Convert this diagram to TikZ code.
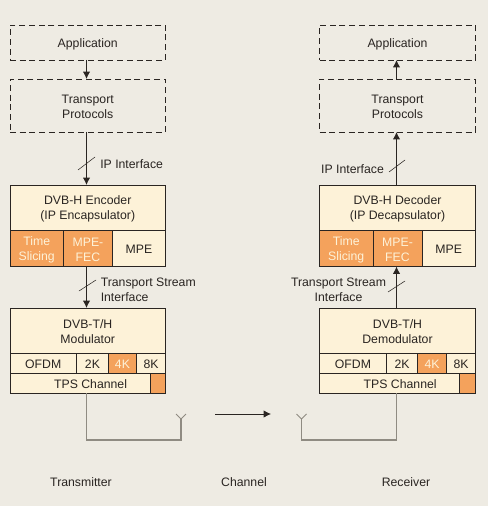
\documentclass[tikz,border=0pt]{standalone}
\usepackage{fontspec}
\setmainfont{Liberation Sans}
\usetikzlibrary{arrows.meta}
\definecolor{bgc}{HTML}{EEEBE3}
\definecolor{boxc}{HTML}{FDF2D8}
\definecolor{orangec}{HTML}{F4A25C}
\definecolor{inkc}{HTML}{2A2522}
\definecolor{wirec}{HTML}{8F8B82}
\newcommand{\cell}[7][]{%
  \pgfmathsetmacro{\cw}{(#5-#3)*0.75}%
  \pgfmathsetmacro{\ch}{(#6-#4)*0.75}%
  \pgfmathsetmacro{\cx}{(#5+#3)/2}%
  \pgfmathsetmacro{\cy}{(#6+#4)/2}%
  \node[#1,minimum width=\cw pt,minimum height=\ch pt] (#2) at (\cx,\cy) {};
  \node[#1,draw=none,fill=none,yshift=-1.1pt] (#2t) at (#2.center) {#7};}
\tikzset{
  lab/.style={font=\fontsize{9.2pt}{11.2pt}\selectfont,text=inkc,align=center,inner sep=0pt},
  labl/.style={lab,align=left},
  dashbox/.style={draw=inkc,line width=0.6pt,dash pattern=on 4.5pt off 2.8pt,lab,outer sep=0pt},
  solidbox/.style={draw=inkc,line width=0.75pt,fill=boxc,lab,outer sep=0pt},
  hotbox/.style={solidbox,fill=orangec,text=boxc},
  flow/.style={draw=inkc,line width=0.75pt,-{Latex[length=5.5pt,width=5.5pt]}},
  slash/.style={draw=inkc,line width=0.4pt},
  wire/.style={draw=wirec,line width=1pt},
  aerial/.style={draw=wirec,line width=0.7pt},
}
\begin{document}
\begin{tikzpicture}[x=0.75pt,y=-0.75pt]
\useasboundingbox[fill=bgc] (0,0) rectangle (488,506);
% Transmitter
\cell[dashbox]{tapp}{10}{25}{165.5}{60}{Application}
\cell[dashbox]{ttp}{10}{79}{165.5}{132}{Transport\\Protocols}
\cell[solidbox]{enc}{10}{185}{165.5}{230}{DVB-H Encoder\\(IP Encapsulator)}
\cell[hotbox]{enca}{10}{230}{63.5}{266.5}{Time\\Slicing}
\cell[hotbox]{encb}{63.5}{230}{112.5}{266.5}{MPE-\\FEC}
\cell[solidbox]{encc}{112.5}{230}{165.5}{266.5}{MPE}
\cell[solidbox]{mod}{10}{308}{165.5}{353}{DVB-T/H\\Modulator}
\cell[solidbox]{moda}{10}{353}{76.5}{373}{OFDM}
\cell[solidbox]{modb}{76.5}{353}{108.5}{373}{2K}
\cell[hotbox]{modc}{108.5}{353}{136.5}{373}{4K}
\cell[solidbox]{modd}{136.5}{353}{165.5}{373}{8K}
\cell[solidbox]{tps}{10}{373}{150.5}{393}{\hspace*{15.5pt}TPS Channel}
\cell[hotbox]{tpsx}{150.5}{373}{165.5}{393}{}
% Receiver
\cell[dashbox]{rapp}{319.5}{25}{475.5}{60}{Application}
\cell[dashbox]{rtp}{319.5}{79}{475.5}{132}{Transport\\Protocols}
\cell[solidbox]{dec}{319.5}{185}{475.5}{230}{DVB-H Decoder\\(IP Decapsulator)}
\cell[hotbox]{deca}{319.5}{230}{373}{266.5}{Time\\Slicing}
\cell[hotbox]{decb}{373}{230}{422}{266.5}{MPE-\\FEC}
\cell[solidbox]{decc}{422}{230}{475.5}{266.5}{MPE}
\cell[solidbox]{dem}{319.5}{308}{475.5}{353}{DVB-T/H\\Demodulator}
\cell[solidbox]{dema}{319.5}{353}{386.5}{373}{OFDM}
\cell[solidbox]{demb}{386.5}{353}{417.5}{373}{2K}
\cell[hotbox]{demc}{417.5}{353}{446.5}{373}{4K}
\cell[solidbox]{demd}{446.5}{353}{475.5}{373}{8K}
\cell[solidbox]{rps}{319.5}{373}{459.5}{393}{\hspace*{16pt}TPS Channel}
\cell[hotbox]{rpsx}{459.5}{373}{475.5}{393}{}
% free-end coordinates
\coordinate (tin1) at (86.5,60); \coordinate (tin2) at (86.5,79);
\coordinate (tin3) at (86.5,132); \coordinate (tin4) at (86.5,185);
\coordinate (tin5) at (86.5,266.5); \coordinate (tin6) at (86.5,308);
\coordinate (rin1) at (396.5,79); \coordinate (rin2) at (396.5,60);
\coordinate (rin3) at (396.5,185); \coordinate (rin4) at (396.5,132);
\coordinate (rin5) at (396.5,308); \coordinate (rin6) at (396.5,266.5);
\draw[flow] (tin1) -- (tin2);
\draw[flow] (tin3) -- (tin4);
\draw[flow] (tin5) -- (tin6);
\draw[flow] (rin1) -- (rin2);
\draw[flow] (rin3) -- (rin4);
\draw[flow] (rin5) -- (rin6);
% slashes
\draw[slash] (78,170) -- (95,157);
\draw[slash] (79,291) -- (96,280);
\draw[slash] (389,172) -- (405,160);
\draw[slash] (388,292) -- (405,281);
% interface labels
\node[labl,anchor=west] (l1) at (100,164.5) {IP Interface};
\node[labl,anchor=west] (l2) at (100.5,290) {Transport Stream\\Interface};
\node[lab,anchor=center] (l3) at (352.5,169) {IP Interface};
\node[lab,anchor=center] (l4) at (338.5,290) {Transport Stream\\Interface};
% antennas
\coordinate (twb) at (86.5,393); \coordinate (twc) at (86.5,440);
\coordinate (twd) at (181,440); \coordinate (twe) at (181,419);
\coordinate (rwb) at (396.5,393); \coordinate (rwc) at (396.5,440);
\coordinate (rwd) at (301.5,440); \coordinate (rwe) at (301.5,419);
\draw[wire] (twb) -- (twc) -- (twd) -- (twe);
\draw[wire] (rwb) -- (rwc) -- (rwd) -- (rwe);
\draw[aerial] (176,414) -- (twe) -- (186,414);
\draw[aerial] (296.5,414) -- (rwe) -- (306.5,414);
% channel arrow
\coordinate (cha) at (215,414); \coordinate (chb) at (271,414);
\draw[flow,line width=0.6pt] (cha) -- (chb);
% captions
\node[lab] (c1) at (81,482.5) {Transmitter};
\node[lab] (c2) at (244,482.5) {Channel};
\node[lab] (c3) at (406,482.5) {Receiver};
\end{tikzpicture}
\end{document}
